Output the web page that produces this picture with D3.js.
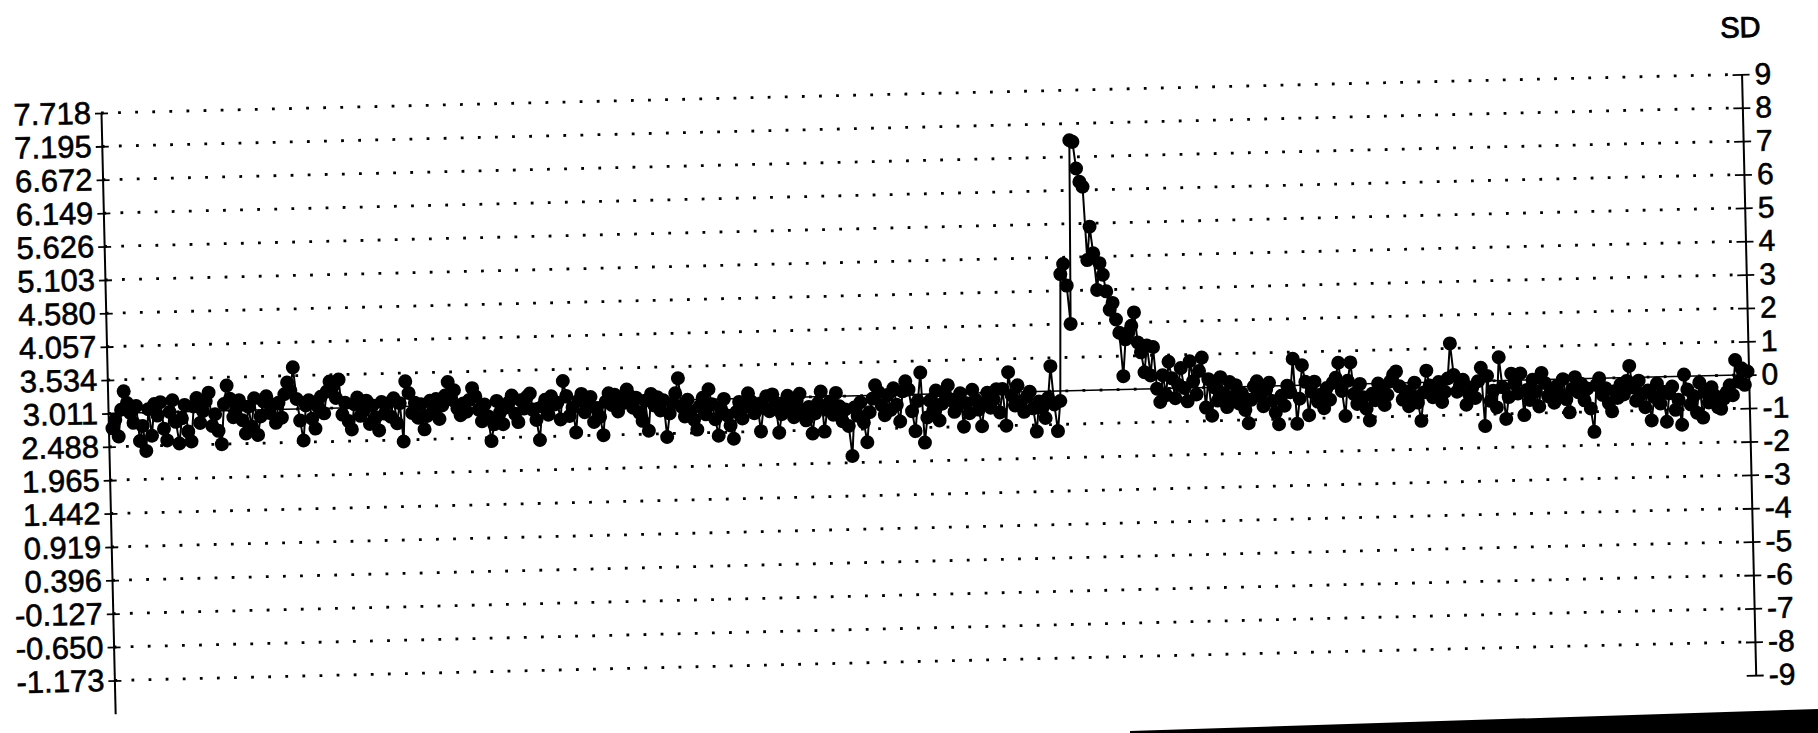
<!DOCTYPE html>
<html><head><meta charset="utf-8">
<script src="https://cdn.jsdelivr.net/npm/d3@7"></script>
<style>html,body{margin:0;padding:0;background:#fff;} svg{display:block;}</style>
</head><body>
<svg id="chart" width="1818" height="733"></svg>
<script>
// Left axis tick labels (original units) — one per SD step from +9 SD down to -8 SD
const leftTickLabels = ["7.718","7.195","6.672","6.149","5.626","5.103","4.580","4.057","3.534","3.011","2.488","1.965","1.442","0.919","0.396","-0.127","-0.650","-1.173"];
// Right axis (SD) tick labels
const rightTickLabels = ["9","8","7","6","5","4","3","2","1","0","-1","-2","-3","-4","-5","-6","-7","-8","-9"];
const rightTickValues = [9,8,7,6,5,4,3,2,1,0,-1,-2,-3,-4,-5,-6,-7,-8,-9];
const gridValues = [9,8,7,6,5,4,3,2,1,0,-1,-2,-3,-4,-5,-6,-7,-8];
const meanValue = 3.011;
const sdValue = 0.523;
const axisTitle = "SD";

// Series values, read in SD units (right axis), in run order
const sdRunA = [-0.45,-0.2,-0.7,0.1,0.65,0.3,0.0,-0.3,0.2,-0.85,
-0.4,-1.15,0.1,-0.7,0.25,-0.1,0.3,-0.5,-0.85,0.0,
0.35,-0.3,-0.95,-0.2,0.2,-0.6,-0.9,0.15,0.4,-0.35,
0.0,0.3,0.55,-0.45,-0.1,-0.6,-1.0,0.2,0.75,0.35,
-0.2,0.05,0.3,-0.3,-0.7,0.1,-0.5,0.35,-0.75,-0.2,
0.25,0.4,-0.1,0.15,-0.4,0.2,-0.25,0.45,0.8,0.55,
1.25,0.3,-0.35,-0.95,0.1,0.25,-0.3,-0.6,0.05,0.35,
-0.15,0.5,0.8,0.65,0.3,0.85,-0.2,0.15,-0.4,-0.65,
0.1,0.3,-0.25,-0.1,0.2,-0.5,0.05,-0.3,-0.7,0.15,
-0.2,0.1];
const sdRunB = [-0.3,0.25,-0.5,0.1,-1.05,0.75,0.4,-0.2,
0.1,-0.35,0.05,-0.7,-0.3,0.15,-0.15,0.2,-0.4,0.0,
0.3,0.7,0.2,0.45,-0.1,-0.3,0.05,-0.2,0.15,0.5,
0.25,-0.15,-0.5,0.0,-0.35,-1.1,-0.6,0.1,-0.25,-0.6,
-0.1,0.05,0.25,-0.3,-0.55,0.1,-0.15,0.2,0.3,-0.2,
-0.5,-1.1,-0.1,0.1,-0.35,0.2,-0.05,0.0,-0.5,0.65,
0.2,-0.4,-0.15,-0.9,0.05,0.25,-0.3,-0.1,0.15,-0.6,
-0.2,-0.45,-1.0,0.0,0.25,-0.1,0.2,-0.3,0.1,-0.05,
0.35,0.15,-0.2,0.1,-0.35,-0.6,0.0,-0.9,0.2,-0.15,
0.1];
const sdRunC = [-0.3,0.0,-1.1,-0.4,-0.1,0.2,0.65,-0.2,-0.5,
0.0,-0.35,-0.6,-0.9,-0.2,0.05,-0.45,0.3,-0.15,-0.6,
-1.1,-0.3,0.0,-0.5,-0.8,-1.2,-0.4,-0.1,-0.6,-0.25,
0.15,-0.1,-0.45,-0.2,-1.0,-0.3,0.05,-0.4,0.1,-0.2,
-1.05,-0.5,-0.15,0.05,-0.35,-0.6,-0.1,0.1,-0.4,-0.7,
-0.3,-1.1,-0.5,-0.2,0.15,-1.05,-0.4,-0.15,-0.55,0.1,
-0.3,-0.75,-0.4,-0.9,-1.8,-0.35,-0.6,-0.2,-0.8,-1.4,
-0.5,-0.1,0.3,0.1,-0.3,-0.6,0.0,-0.45,0.2,-0.3,
-0.8,0.1,0.4,0.15,-0.5,-1.1,-0.2,0.65];
const sdRunD = [-1.45,-0.7,
-0.2,-0.5,0.1,-0.8,-0.3,0.0,0.25,-0.2,-0.55,-0.4,
0.0,-1.0,-0.3,-0.6,0.1,-0.2,-0.5,-1.0,-0.3,0.0,
-0.45,-0.2,0.1,-0.6,0.1,-1.0,0.6,-0.1,-0.4,0.2,
-0.3,-0.6,-0.15,0.0,-0.5,-1.2,-0.3,-0.5,-0.8,-0.2,
0.75,-0.4,-1.2,-0.3];
const sdRunSpike = [3.5,3.8,3.15,2.0,7.5,7.45,6.65,6.25,6.1,3.9,
4.9,4.1,3.0,3.8,3.45,2.95,2.4,2.6,2.1,1.7,
0.4,1.5,1.7,1.9,2.3,1.4,1.1,0.5,1.3,0.4,
1.25,0.0,-0.4];
const sdRunE = [0.4,-0.2,0.8,
0.3,-0.3,0.1,0.6,0.0,-0.4,0.8,0.2,-0.2,0.5,
0.9,-0.6,0.25,-0.85,0.0,-0.4,0.3,-0.2,-0.6,0.15,
-0.3,0.05,-0.5,-0.2,-0.7,-1.1,-0.4,0.0,0.15,-0.3,
-0.6,-0.1,0.1,-0.45,-0.8,-1.15,-0.3,-0.6,0.0,-0.2,
0.8,-1.15,-0.4,0.6,0.1,-0.9,-0.2,0.1,-0.5,-0.3,
-0.7,-0.1,-0.45,0.05,0.2,0.65,-0.2,-0.95,0.1,0.65,
-0.3,-0.6,0.0,-0.4,-0.75,-1.1,-0.3,-0.5,0.0,-0.2,
-0.65,-0.35,0.05,0.25,0.35,-0.1,-0.5,-0.25,-0.7,-0.4,
0.0,-0.6,-1.15,-0.3,0.35,-0.1,-0.45,-0.2,0.0,-0.6,
-0.3,0.1,1.15,0.2,-0.3,-0.1,0.05,-0.7,-0.4,-0.2];
const sdRunF = [-0.5,0.0,0.4,-1.35,0.15,-0.6,-0.3,-0.8,0.7,-0.2,
-1.15,-0.5,0.2,-0.1,-0.4,0.2,-1.05,-0.3,-0.6,0.0,
-0.35,-0.8,0.2,-0.1,-0.5,-0.3,-0.7,-0.2,-0.45,0.0,
-0.6,-1.0,-0.3,0.05,-0.4,-0.15,-0.65,-0.3,-0.9,-1.6,
-0.2,0.0,-0.5,-0.3,-0.75,-1.0,-0.4,-0.6,-0.2,-0.5,
-0.1,0.35,-0.3,-0.7,-0.1,-0.5,-0.9,-0.4,-1.3,-0.6,
-0.2,-0.8,-0.45,-1.35,-0.5,-0.3,-1.0,-0.7,-1.45,0.05,
-0.4,-0.85,-0.6,-1.1,-0.2,-1.25,-0.5,-0.8,-0.35,-0.6,
-0.95,-1.0,-0.7,-0.5,-0.3,-0.6,0.45,-0.2,0.2,-0.3,
0.1];

const sdSeries = [].concat(sdRunA, sdRunB, sdRunC, sdRunD, sdRunSpike, sdRunE, sdRunF);

// ---- layout (the scanned sheet is slightly tilted) ----
const W = 1641, H = 601;
const originX = 101, originY = 113, tilt = -1.35;
const font = "'Liberation Sans', Arial, Helvetica, sans-serif";

const svg = d3.select("#chart");
svg.append("rect").attr("width",1818).attr("height",733).attr("fill","#fff");

const g = svg.append("g").attr("transform", `translate(${originX},${originY}) rotate(${tilt})`);

const x = d3.scaleLinear().domain([0, sdSeries.length - 1]).range([4, W - 1]);
const ySD = d3.scaleLinear().domain([-9, 9]).range([H, 0]);
const yLeft = d3.scaleLinear().domain([meanValue - 9*sdValue, meanValue + 9*sdValue]).range([H, 0]);

// dotted grid
g.append("g").selectAll("line").data(gridValues).join("line")
  .attr("x1", 0).attr("x2", W)
  .attr("y1", d => ySD(d)).attr("y2", d => ySD(d))
  .attr("stroke", "#000").attr("stroke-width", 2.8)
  .attr("stroke-dasharray", "2.8 14.3");

// mean line
g.append("line").attr("x1", 0).attr("x2", W)
  .attr("y1", ySD(0)).attr("y2", ySD(0))
  .attr("stroke", "#000").attr("stroke-width", 1.5);

// series line
const line = d3.line().x((d,i) => x(i)).y(d => ySD(d));
g.append("path").datum(sdSeries).attr("d", line)
  .attr("fill", "none").attr("stroke", "#000").attr("stroke-width", 2);

// markers
g.append("g").selectAll("circle").data(sdSeries).join("circle")
  .attr("cx", (d,i) => x(i)).attr("cy", d => ySD(d))
  .attr("r", 7).attr("fill", "#000");

// left axis
const leftVals = leftTickLabels.map(Number);
const axL = g.append("g").call(
  d3.axisLeft(yLeft).tickValues(leftVals).tickFormat((d,i) => leftTickLabels[i])
    .tickSizeInner(6).tickSizeOuter(0).tickPadding(10));
axL.select(".domain").attr("stroke","#000").attr("stroke-width",2);
axL.selectAll(".tick line").attr("x1",-6).attr("x2",7).attr("stroke","#000").attr("stroke-width",1.8);
axL.selectAll(".tick text").attr("x",-10).attr("font-family",font).attr("font-size",31)
  .attr("fill","#000").attr("stroke","#000").attr("stroke-width",0.6);

// right axis
const axR = g.append("g").attr("transform", `translate(${W},0)`).call(
  d3.axisRight(ySD).tickValues(rightTickValues).tickFormat((d,i) => rightTickLabels[i])
    .tickSizeInner(6).tickSizeOuter(0).tickPadding(10));
axR.select(".domain").attr("stroke","#000").attr("stroke-width",2);
axR.selectAll(".tick line").attr("x1",-9).attr("x2",8).attr("stroke","#000").attr("stroke-width",1.8);
axR.selectAll(".tick text").attr("x",13).attr("font-family",font).attr("font-size",30)
  .attr("fill","#000").attr("stroke","#000").attr("stroke-width",0.6);

g.append("text").attr("x", W).attr("y", -37)
  .attr("text-anchor","middle").attr("font-family",font).attr("font-size",29)
  .attr("fill","#000").attr("stroke","#000").attr("stroke-width",0.9).text(axisTitle);

// edge of the scanned page at the bottom right
svg.append("polygon").attr("points","1130,731 1818,709 1818,733 1130,733").attr("fill","#000");
</script>
</body></html>
